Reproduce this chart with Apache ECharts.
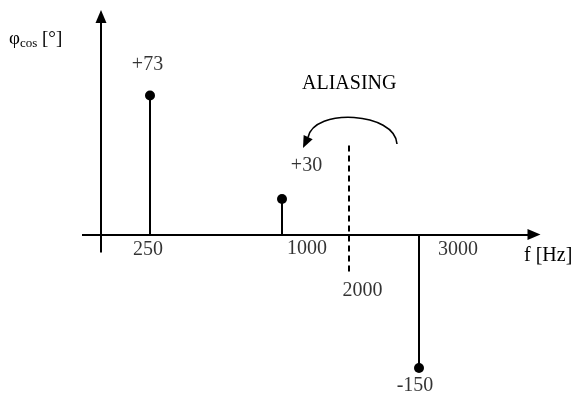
<!DOCTYPE html>
<html><head><meta charset="utf-8">
<script src="https://cdn.jsdelivr.net/npm/echarts@6/dist/echarts.min.js"></script>
<style>html,body{margin:0;padding:0;background:#fff}#c{width:576px;height:394px}</style>
</head><body><div id="c"></div>
<script>
// Schematic (not-to-scale) spectrum diagram.
const freqLabels = ['250', '1000', '2000', '3000'];   // f axis tick labels [Hz]
const freqPos = [150, 282, 349, 419];                 // schematic position of each frequency on the f axis
const phaseLabels = ['+73', '+30', '-150'];           // phase labels [°]
const stemFreqIdx = [0, 1, 3];                        // which frequency each stem belongs to
const stemHeight = [139, 35.5, -133.5];               // drawn (schematic) stem heights
const foldFreqIdx = 2;                                // folding frequency (dashed line)

const FONT = '"Liberation Serif", "Times New Roman", serif';
const tickOffsets = [[-2, 15.5], [25, 14.5], [13.5, 56], [39, 15]];
const phaseOffsets = [[-2.5, -30.5], [24.5, -33], [-4, 18]];

const chart = echarts.init(document.getElementById('c'), null, {renderer: 'canvas'});
const stems = stemFreqIdx.map((fi, i) => [freqPos[fi], stemHeight[i]]);
const txt = {color: '#000', fontFamily: FONT, fontSize: 20};

chart.setOption({
  animation: false,
  backgroundColor: '#fff',
  grid: {left: 0, right: 0, top: 0, bottom: 0},
  xAxis: {type: 'value', min: 0, max: 576, show: false},
  yAxis: {type: 'value', min: -159.5, max: 234.5, show: false},
  graphic: [
    {type: 'text', left: 302, top: 74, style: Object.assign({text: 'ALIASING'}, txt)},
    {type: 'text', left: 524, top: 246, style: Object.assign({text: 'f [Hz]'}, txt)},
    {type: 'text', left: 9, top: 30, style: {
      text: '{a|φ}{b|cos}{a| [°]}',
      rich: {
        a: {fontFamily: FONT, fontSize: 19, color: '#000', lineHeight: 22},
        b: {fontFamily: FONT, fontSize: 13, color: '#000', lineHeight: 22, verticalAlign: 'bottom', padding: [7, 0, 0, 0]}
      }
    }}
  ],
  series: [
    {
      type: 'custom',
      data: stems,
      renderItem: (params, api) => {
        const x = api.value(0), h = api.value(1);
        const p0 = api.coord([x, 0]), p1 = api.coord([x, h]);
        return {type: 'group', children: [
          {type: 'line', shape: {x1: p0[0], y1: p0[1], x2: p1[0], y2: p1[1]}, style: {stroke: '#000', lineWidth: 2}},
          {type: 'circle', shape: {cx: p1[0], cy: p1[1], r: 5}, style: {fill: '#000'}}
        ]};
      },
      markLine: {
        silent: true, animation: false,
        label: {show: false},
        lineStyle: {color: '#000', width: 2, type: 'solid'},
        symbolSize: [11, 13],
        data: [
          [{coord: [82, 0], symbol: 'none'}, {coord: [534, 0], symbol: 'triangle'}],
          [{coord: [101, -18], symbol: 'none'}, {coord: [101, 218], symbol: 'triangle'}]
        ]
      }
    },
    {
      type: 'scatter', symbolSize: 0, silent: true,
      data: freqLabels.map((t, i) => ({value: [freqPos[i], 0], label: {offset: tickOffsets[i]}})),
      label: {show: true, position: 'inside', formatter: p => freqLabels[p.dataIndex],
        color: '#000', fontFamily: FONT, fontSize: 20, align: 'center', verticalAlign: 'middle'}
    },
    {
      type: 'scatter', symbolSize: 0, silent: true,
      data: stems.map((s, i) => ({value: s, label: {offset: phaseOffsets[i]}})),
      label: {show: true, position: 'inside', formatter: p => phaseLabels[p.dataIndex],
        color: '#000', fontFamily: FONT, fontSize: 20, align: 'center', verticalAlign: 'middle'}
    },
    {
      type: 'line', data: [], silent: true,
      markLine: {
        silent: true, animation: false, symbol: 'none',
        label: {show: false},
        lineStyle: {color: '#000', width: 2, type: [6, 4]},
        data: [[{coord: [freqPos[foldFreqIdx], 89]}, {coord: [freqPos[foldFreqIdx], -37]}]]
      }
    },
    {
      // curved "aliasing" arrow folding around the dashed line
      type: 'custom', silent: true,
      data: [[397, 90.5, 308, 97, 303, 86.5]],
      renderItem: (params, api) => {
        const s = api.coord([api.value(0), api.value(1)]);
        const e = api.coord([api.value(2), api.value(3)]);
        const t = api.coord([api.value(4), api.value(5)]);
        const c1 = [s[0] - 2, s[1] - 32];
        const c2 = [e[0] + 6, e[1] - 30];
        const dx = t[0] - e[0], dy = t[1] - e[1];
        const L = Math.hypot(dx, dy), ux = dx / L, uy = dy / L;
        const w = 5;
        const b = [t[0] - ux * 12, t[1] - uy * 12];
        return {type: 'group', children: [
          {type: 'bezierCurve', shape: {x1: s[0], y1: s[1], cpx1: c1[0], cpy1: c1[1], cpx2: c2[0], cpy2: c2[1], x2: e[0], y2: e[1]},
            style: {stroke: '#000', lineWidth: 1.6, fill: null}},
          {type: 'polygon', shape: {points: [t, [b[0] - uy * w, b[1] + ux * w], [b[0] + uy * w, b[1] - ux * w]]},
            style: {fill: '#000'}}
        ]};
      }
    }
  ]
});
</script></body></html>
